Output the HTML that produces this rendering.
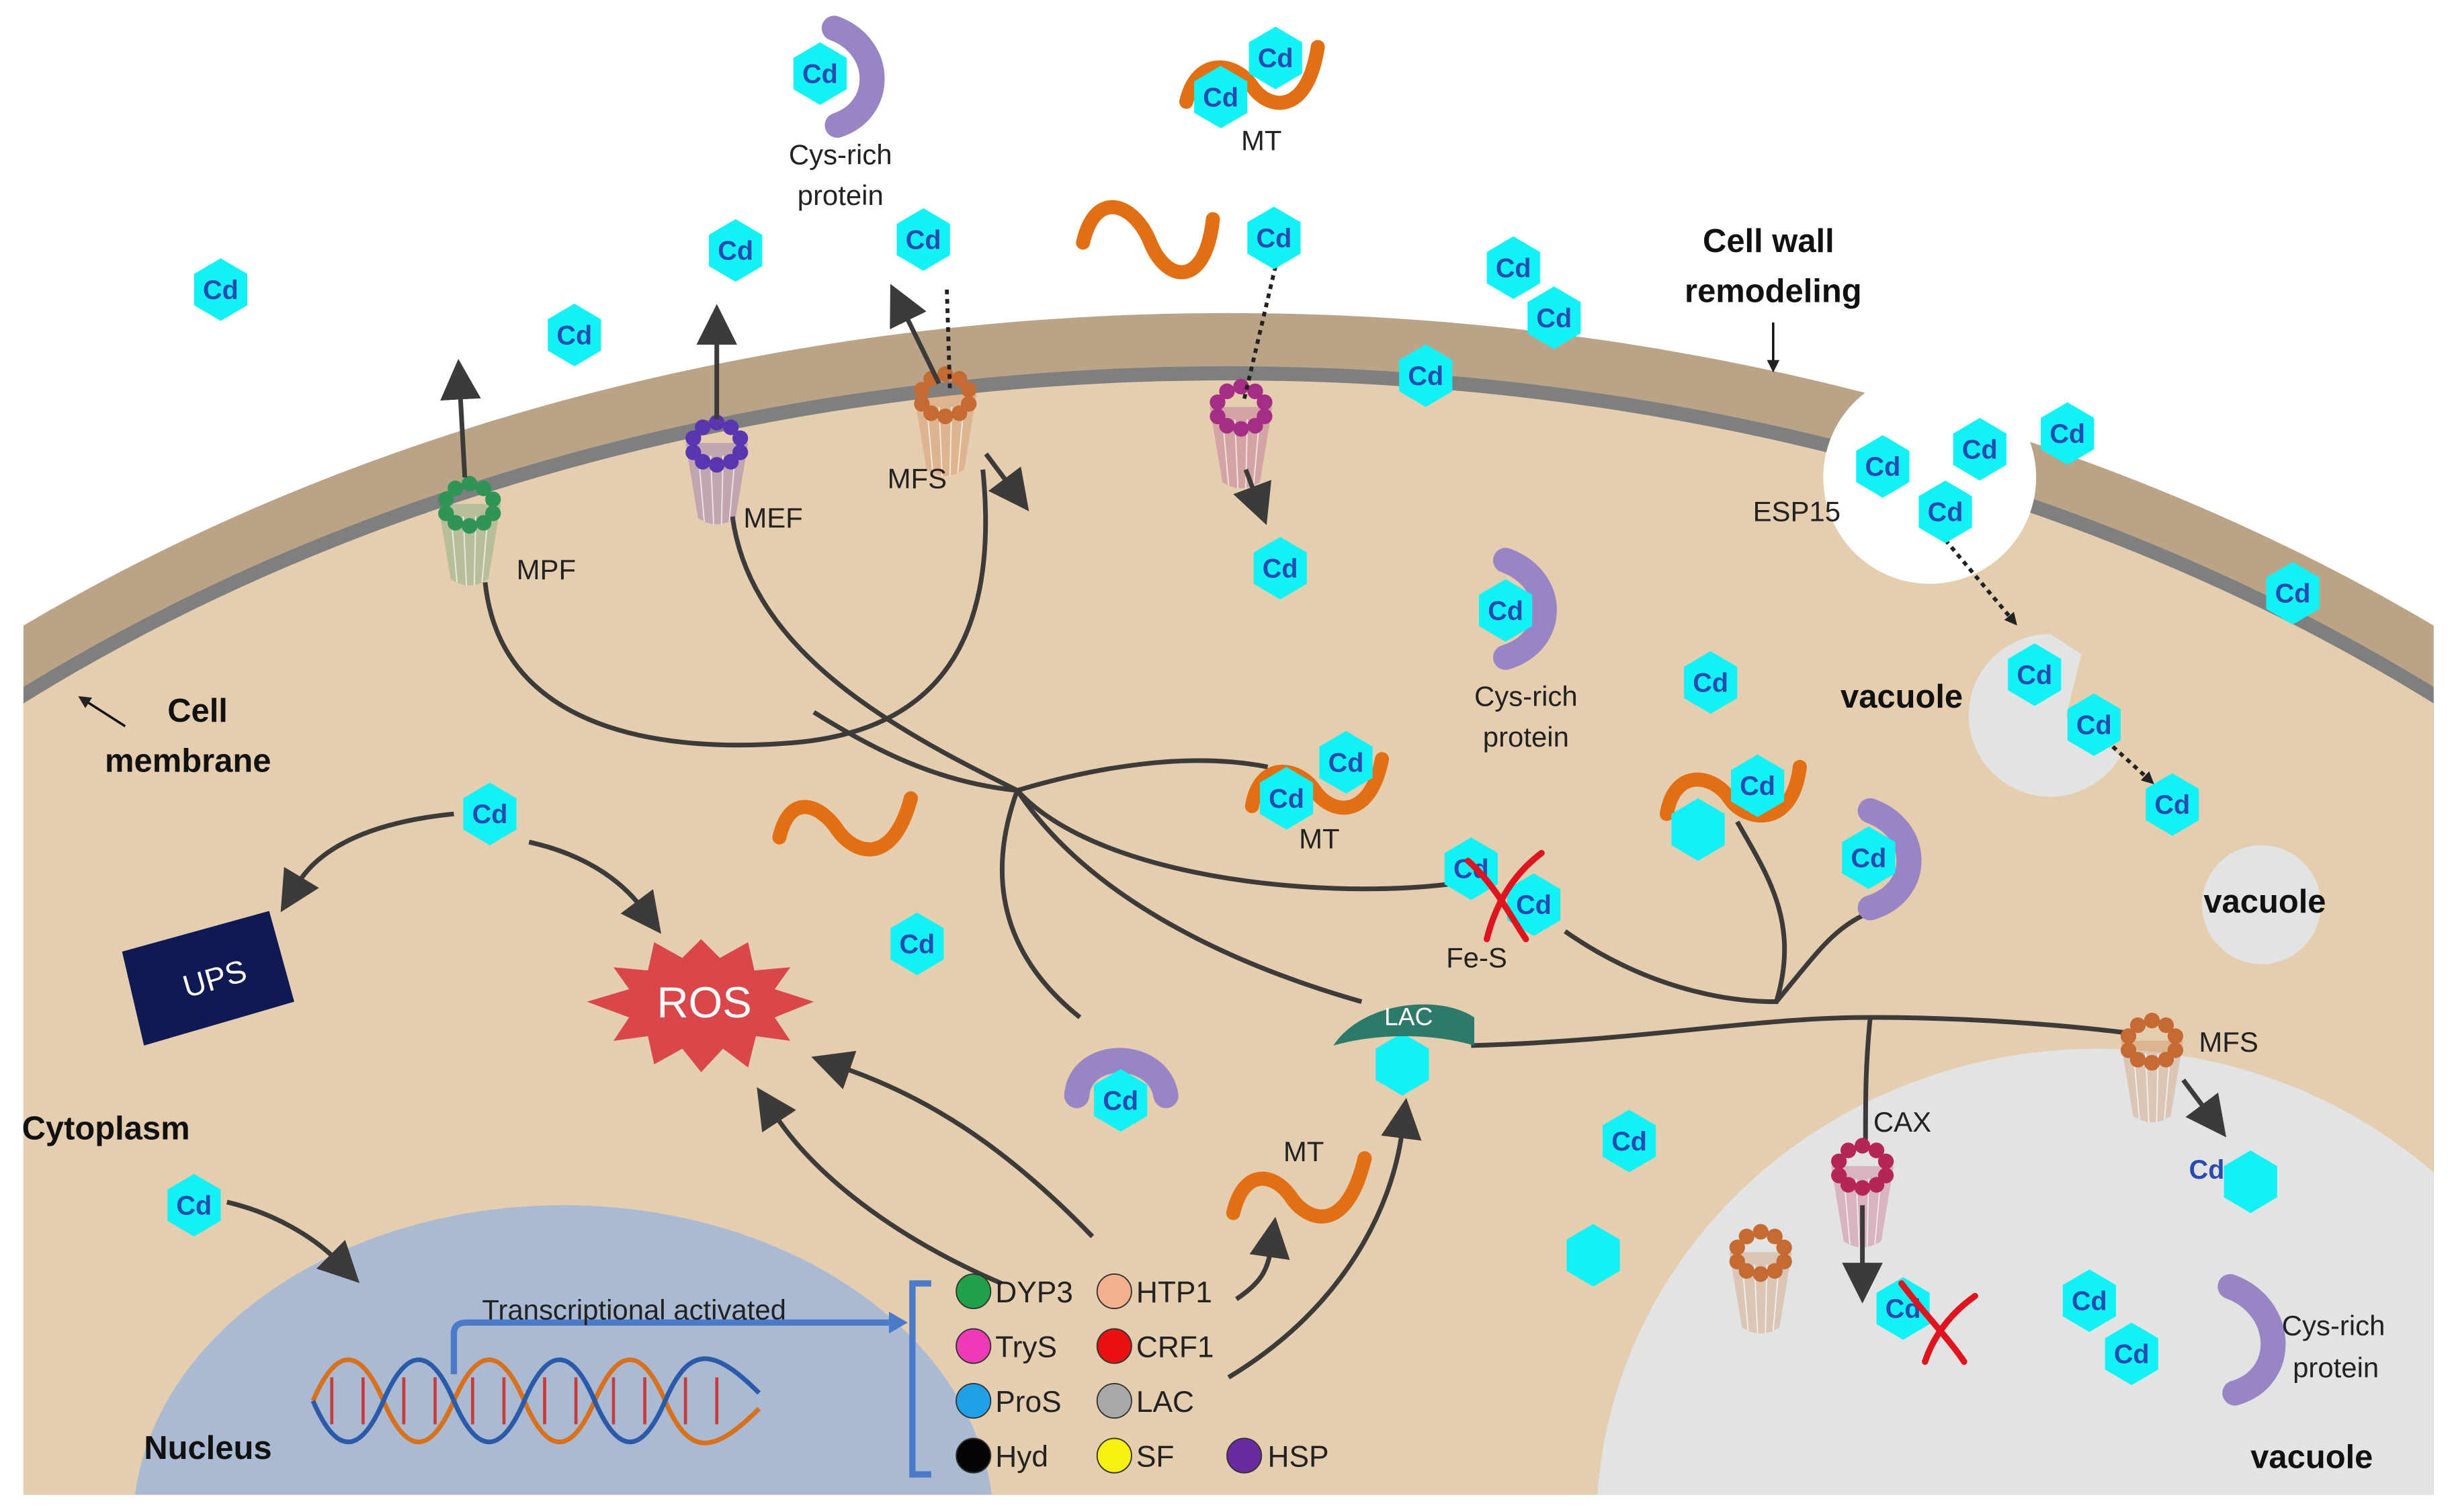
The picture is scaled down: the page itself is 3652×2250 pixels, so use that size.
<!DOCTYPE html>
<html><head><meta charset="utf-8"><style>
html,body{margin:0;padding:0;background:#fff;width:3652px;height:2250px;overflow:hidden;}
svg{display:block;}
text{font-family:"Liberation Sans",sans-serif;}
</style></head><body>
<svg width="3652" height="2250" viewBox="0 0 1568 966" xmlns="http://www.w3.org/2000/svg">
<defs>
<clipPath id="cell"><rect x="15" y="0" width="1540" height="955"/></clipPath>
<symbol id="hex" viewBox="-18 -20 36 40" overflow="visible"><polygon points="0,-20 17,-10 17,10 0,20 -17,10 -17,-10" fill="#12f2f6"/></symbol>
<marker id="ahs" markerWidth="8" markerHeight="8" refX="2" refY="4" orient="auto" markerUnits="userSpaceOnUse"><path d="M0,0 L8,4 L0,8 z" fill="#222"/></marker>
<marker id="big" viewBox="0 0 10 10" markerWidth="26" markerHeight="26" refX="2" refY="5" orient="auto" markerUnits="userSpaceOnUse"><path d="M0,0 L10,5 L0,10 z" fill="#3d3a3a"/></marker>
<g id="tr">
<path d="M-20,0 L-12,48 Q0,56 12,48 L20,0 z" fill="currentColor" opacity="0.25"/>
<g stroke="#fff" stroke-width="0.8" opacity="0.7"><line x1="-12" y1="5" x2="-8" y2="50"/><line x1="-4" y1="8" x2="-2" y2="52"/><line x1="4" y1="8" x2="3" y2="52"/><line x1="12" y1="5" x2="8" y2="50"/></g>
<g fill="currentColor">
<circle cx="0" cy="-13" r="5"/><circle cx="9" cy="-10" r="5"/><circle cx="15" cy="-3" r="5"/><circle cx="15" cy="6" r="5"/><circle cx="9" cy="12" r="5"/><circle cx="0" cy="14" r="5"/><circle cx="-9" cy="12" r="5"/><circle cx="-15" cy="6" r="5"/><circle cx="-15" cy="-3" r="5"/><circle cx="-9" cy="-10" r="5"/>
</g>
</g>
</defs>

<g clip-path="url(#cell)">
<ellipse cx="785" cy="1100" rx="1226" ry="900" fill="#baa387"/>
<ellipse cx="785" cy="1100" rx="1192" ry="866" fill="#7f7f7f"/>
<ellipse cx="785" cy="1100" rx="1183" ry="857" fill="#e5cdaf"/>
<ellipse cx="360" cy="975" rx="275" ry="205" fill="#a9bad2"/>
<ellipse cx="1340" cy="975" rx="320" ry="305" fill="#e3e3e3"/>
</g>
<circle cx="1233" cy="305" r="68" fill="#fff"/>
<path d="M1310,405 a52,52 0 1,0 45,78 l-35,-25 l10,-40 z" fill="#e3e3e3"/>
<circle cx="1445" cy="578" r="38" fill="#e3e3e3"/>

<g fill="none" stroke="#3d3a3a" stroke-width="3">
<path d="M310,372 C320,470 430,480 500,475 C590,470 640,420 628,300"/>
<path d="M468,330 C480,420 580,470 650,505"/>
<path d="M650,505 C700,490 760,480 810,490"/>
<path d="M650,505 C700,560 840,575 925,565"/>
<path d="M650,505 C630,560 640,610 690,650"/>
<path d="M650,505 C700,580 800,620 870,640"/>
<path d="M650,505 C600,500 560,480 520,455"/>
<path d="M1000,595 C1050,630 1100,640 1135,640 C1150,590 1130,560 1110,525"/>
<path d="M1135,640 C1160,610 1170,595 1190,585"/>
<path d="M940,668 C1050,665 1120,650 1195,650 C1260,650 1320,655 1360,660"/>
<path d="M1195,650 C1192,680 1192,700 1192,728"/>
</g>

<use href="#tr" x="300" y="322" color="#2f9456"/>
<use href="#tr" x="458" y="283" color="#5a35b0"/>
<use href="#tr" x="604" y="252" color="#c46a32"/>
<use href="#tr" x="793" y="260" color="#a52d84"/>
<use href="#tr" x="1190" y="745" color="#b42656"/>
<use href="#tr" x="1375" y="665" color="#c46a32"/>
<use href="#tr" x="1125" y="800" color="#c46a32"/>

<g stroke="#3d3a3a" stroke-width="3" fill="none">
<line x1="297" y1="305" x2="294" y2="250" marker-end="url(#big)"/>
<line x1="458" y1="268" x2="458" y2="215" marker-end="url(#big)"/>
<line x1="600" y1="245" x2="578" y2="200" marker-end="url(#big)"/>
<line x1="630" y1="290" x2="645" y2="310" marker-end="url(#big)"/>
<line x1="796" y1="300" x2="802" y2="316" marker-end="url(#big)"/>
<line x1="1190" y1="770" x2="1190" y2="812" marker-end="url(#big)"/>
<line x1="1395" y1="690" x2="1410" y2="710" marker-end="url(#big)"/>
</g>
<g stroke="#222" stroke-width="2.5" stroke-dasharray="3,3" fill="none">
<line x1="605" y1="185" x2="607" y2="250"/>
<line x1="815" y1="170" x2="795" y2="255"/>
<line x1="1243" y1="345" x2="1285" y2="395" marker-end="url(#ahs)"/>
<line x1="1350" y1="477" x2="1372" y2="497" marker-end="url(#ahs)"/>
</g>
<line x1="1133" y1="206" x2="1133" y2="232" stroke="#111" stroke-width="1.5" marker-end="url(#ahs)"/>
<line x1="80" y1="464" x2="55" y2="448" stroke="#111" stroke-width="1.5" marker-end="url(#ahs)"/>

<g fill="none" stroke="#9886c4" stroke-width="16" stroke-linecap="round">
<path d="M533,18 C565,30 565,70 535,80"/>
<path d="M962,358 C995,370 995,410 962,420"/>
<path d="M1195,518 C1228,530 1228,570 1195,580"/>
<path d="M688,700 C690,670 740,670 745,700"/>
<path d="M1425,822 C1460,835 1462,880 1428,890"/>
</g>

<g fill="none" stroke="#e36f14" stroke-width="9" stroke-linecap="round">
<path d="M758,65 C765,35 790,40 800,55 S835,75 842,30"/>
<path d="M692,155 C700,120 725,130 735,155 S770,185 775,140"/>
<path d="M498,535 C505,505 525,515 535,530 S570,555 582,510"/>
<path d="M800,515 C805,485 830,490 840,505 S875,525 883,485"/>
<path d="M1065,520 C1070,490 1095,495 1105,510 S1145,530 1150,490"/>
<path d="M788,775 C795,745 815,750 825,765 S860,790 872,740"/>
</g>

<g>
<use href="#hex" x="123" y="165" width="36" height="40"/>
<use href="#hex" x="349" y="194" width="36" height="40"/>
<use href="#hex" x="452" y="140" width="36" height="40"/>
<use href="#hex" x="572" y="133" width="36" height="40"/>
<use href="#hex" x="506" y="27" width="36" height="40"/>
<use href="#hex" x="797" y="17" width="36" height="40"/>
<use href="#hex" x="762" y="42" width="36" height="40"/>
<use href="#hex" x="796" y="132" width="36" height="40"/>
<use href="#hex" x="949" y="151" width="36" height="40"/>
<use href="#hex" x="975" y="183" width="36" height="40"/>
<use href="#hex" x="893" y="220" width="36" height="40"/>
<use href="#hex" x="800" y="343" width="36" height="40"/>
<use href="#hex" x="1185" y="278" width="36" height="40"/>
<use href="#hex" x="1247" y="267" width="36" height="40"/>
<use href="#hex" x="1303" y="257" width="36" height="40"/>
<use href="#hex" x="1225" y="307" width="36" height="40"/>
<use href="#hex" x="1447" y="359" width="36" height="40"/>
<use href="#hex" x="1075" y="416" width="36" height="40"/>
<use href="#hex" x="1282" y="411" width="36" height="40"/>
<use href="#hex" x="1320" y="443" width="36" height="40"/>
<use href="#hex" x="1370" y="494" width="36" height="40"/>
<use href="#hex" x="944" y="370" width="36" height="40"/>
<use href="#hex" x="842" y="467" width="36" height="40"/>
<use href="#hex" x="804" y="490" width="36" height="40"/>
<use href="#hex" x="1105" y="482" width="36" height="40"/>
<use href="#hex" x="1176" y="528" width="36" height="40"/>
<use href="#hex" x="922" y="535" width="36" height="40"/>
<use href="#hex" x="962" y="558" width="36" height="40"/>
<use href="#hex" x="295" y="500" width="36" height="40"/>
<use href="#hex" x="568" y="583" width="36" height="40"/>
<use href="#hex" x="698" y="683" width="36" height="40"/>
<use href="#hex" x="1023" y="709" width="36" height="40"/>
<use href="#hex" x="106" y="750" width="36" height="40"/>
<use href="#hex" x="1198" y="816" width="36" height="40"/>
<use href="#hex" x="1317" y="811" width="36" height="40"/>
<use href="#hex" x="1344" y="845" width="36" height="40"/>
<use href="#hex" x="1067" y="510" width="36" height="40"/>
<use href="#hex" x="878" y="660" width="36" height="40"/>
<use href="#hex" x="1000" y="782" width="36" height="40"/>
<use href="#hex" x="1420" y="735" width="36" height="40"/>
</g>
<g font-size="17" fill="#2a4ab0" text-anchor="middle" font-weight="bold">
<text x="141" y="191">Cd</text><text x="367" y="220">Cd</text><text x="470" y="166">Cd</text><text x="590" y="159">Cd</text>
<text x="524" y="53">Cd</text><text x="815" y="43">Cd</text><text x="780" y="68">Cd</text><text x="814" y="158">Cd</text>
<text x="967" y="177">Cd</text><text x="993" y="209">Cd</text><text x="911" y="246">Cd</text><text x="818" y="369">Cd</text>
<text x="1203" y="304">Cd</text><text x="1265" y="293">Cd</text><text x="1321" y="283">Cd</text><text x="1243" y="333">Cd</text>
<text x="1465" y="385">Cd</text><text x="1093" y="442">Cd</text><text x="1300" y="437">Cd</text><text x="1338" y="469">Cd</text>
<text x="1388" y="520">Cd</text><text x="962" y="396">Cd</text><text x="860" y="493">Cd</text><text x="822" y="516">Cd</text>
<text x="1123" y="508">Cd</text><text x="1194" y="554">Cd</text><text x="940" y="561">Cd</text><text x="980" y="584">Cd</text>
<text x="313" y="526">Cd</text><text x="586" y="609">Cd</text><text x="716" y="709">Cd</text><text x="1041" y="735">Cd</text>
<text x="124" y="776">Cd</text><text x="1216" y="842">Cd</text><text x="1335" y="837">Cd</text><text x="1362" y="871">Cd</text>
<text x="1410" y="753">Cd</text>
</g>

<g stroke="#e0141e" stroke-width="4" fill="none" stroke-linecap="round">
<path d="M938,550 C955,565 965,585 975,600"/><path d="M985,545 C965,560 955,580 950,600"/>
<path d="M1215,820 C1230,840 1245,855 1255,870"/><path d="M1262,828 C1245,840 1235,855 1230,870"/>
</g>

<path d="M852,668 C870,640 920,635 942,650 L942,668 C915,660 880,660 852,668 z" fill="#2e7a6a"/>
<text x="900" y="655" font-size="16" fill="#fff" text-anchor="middle">LAC</text>

<polygon points="78,608 172,582 188,640 92,668" fill="#0f1a55"/>
<text x="138" y="632" font-size="20" fill="#fff" text-anchor="middle" transform="rotate(-16 138 628)">UPS</text>

<polygon points="448,600 460,612 478,602 482,620 505,618 495,632 520,640 495,650 505,665 483,662 478,682 462,670 448,685 436,670 418,680 414,662 392,665 402,650 375,640 402,632 392,618 414,620 418,602 436,612" fill="#d9474a"/>
<text x="450" y="650" font-size="28" fill="#fff" text-anchor="middle">ROS</text>

<g stroke="#3d3a3a" stroke-width="3" fill="none">
<path d="M290,520 C240,525 205,540 190,565" marker-end="url(#big)"/>
<path d="M338,538 C370,545 395,560 410,580" marker-end="url(#big)"/>
<path d="M145,768 C175,775 200,790 215,805" marker-end="url(#big)"/>
<path d="M640,820 C570,790 520,750 495,712" marker-end="url(#big)"/>
<path d="M698,790 C640,730 590,700 538,682" marker-end="url(#big)"/>
<path d="M790,830 C805,820 810,812 812,798" marker-end="url(#big)"/>
<path d="M785,880 C860,835 890,770 896,722" marker-end="url(#big)"/>
</g>

<g fill="none" stroke-width="3">
<path d="M200,895 C215,860 230,860 245,895 S275,930 290,895 S320,860 335,895 S365,930 380,895 S410,860 425,895 S455,930 485,900" stroke="#d8701c"/>
<path d="M200,895 C215,930 230,930 245,895 S275,860 290,895 S320,930 335,895 S365,860 380,895 S410,930 425,895 S455,860 485,890" stroke="#2b5aa8"/>
<g stroke="#c93b3b" stroke-width="2"><path d="M212,880v30M232,880v30M258,880v30M278,880v30M302,880v30M322,880v30M348,880v30M368,880v30M392,880v30M412,880v30M438,880v30M458,880v30"/></g>
</g>
<path d="M290,878 L290,852 Q290,845 298,845 L568,845" stroke="#4a7ac8" stroke-width="4" fill="none"/>
<polygon points="568,838 580,845 568,852" fill="#4a7ac8"/>
<path d="M595,820 L583,820 L583,942 L595,942" stroke="#4a7ac8" stroke-width="4" fill="none"/>

<g stroke="#333" stroke-width="0.8">
<circle cx="622" cy="825" r="11" fill="#1fa24a"/><circle cx="712" cy="825" r="11" fill="#f3b08c"/>
<circle cx="622" cy="860" r="11" fill="#ef3ab8"/><circle cx="712" cy="860" r="11" fill="#e81010"/>
<circle cx="622" cy="895" r="11" fill="#20a0e8"/><circle cx="712" cy="895" r="11" fill="#a8a8a8"/>
<circle cx="622" cy="930" r="11" fill="#050505"/><circle cx="712" cy="930" r="11" fill="#f8f010"/>
<circle cx="795" cy="930" r="11" fill="#6a2aa0"/>
</g>
<g font-size="19" fill="#222">
<text x="636" y="832">DYP3</text><text x="726" y="832">HTP1</text>
<text x="636" y="867">TryS</text><text x="726" y="867">CRF1</text>
<text x="636" y="902">ProS</text><text x="726" y="902">LAC</text>
<text x="636" y="937">Hyd</text><text x="726" y="937">SF</text><text x="810" y="937">HSP</text>
</g>

<g font-size="18" fill="#222">
<text x="537" y="105" text-anchor="middle">Cys-rich</text><text x="537" y="131" text-anchor="middle">protein</text>
<text x="806" y="96" text-anchor="middle">MT</text>
<text x="330" y="370">MPF</text><text x="475" y="337">MEF</text><text x="567" y="312">MFS</text>
<text x="1120" y="333">ESP15</text>
<text x="975" y="451" text-anchor="middle">Cys-rich</text><text x="975" y="477" text-anchor="middle">protein</text>
<text x="830" y="542">MT</text><text x="924" y="618">Fe-S</text>
<text x="1405" y="672">MFS</text><text x="1197" y="723">CAX</text>
<text x="820" y="742">MT</text>
<text x="1458" y="853">Cys-rich</text><text x="1465" y="880">protein</text>
<text x="308" y="843">Transcriptional activated</text>
</g>
<g font-size="21" fill="#111" font-weight="bold">
<text x="1130" y="161" text-anchor="middle">Cell wall</text><text x="1133" y="193" text-anchor="middle">remodeling</text>
<text x="107" y="461">Cell</text><text x="67" y="493">membrane</text>
<text x="1176" y="452">vacuole</text><text x="1408" y="583">vacuole</text>
<text x="14" y="728">Cytoplasm</text><text x="92" y="932">Nucleus</text>
<text x="1438" y="938">vacuole</text>
</g>
</svg>
</body></html>
